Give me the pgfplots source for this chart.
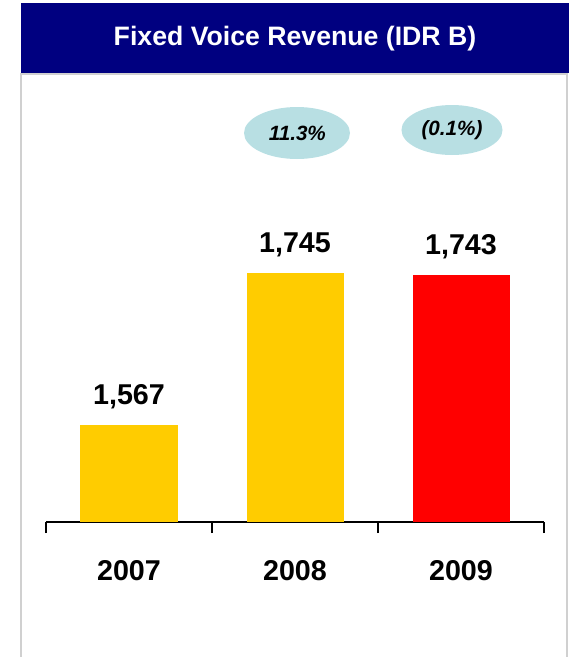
\documentclass[border=0pt]{standalone}
\usepackage{pgfplots}
\pgfplotsset{compat=1.18}
\usepackage{fontspec}
\setmainfont{Liberation Sans}

\definecolor{banner}{RGB}{0,0,128}
\definecolor{barYellow}{RGB}{255,204,0}
\definecolor{barRed}{RGB}{255,0,0}
\definecolor{bubble}{RGB}{184,223,227}
\definecolor{frame}{RGB}{208,208,208}

\begin{document}
\begin{tikzpicture}
\useasboundingbox (0,0) rectangle (426.75pt,-492.75pt);

% panel frame and title banner
\draw[frame, line width=1.3pt] (15.75pt,-492.75pt) -- (15.75pt,-55.5pt) -- (425.25pt,-55.5pt) -- (425.25pt,-492.75pt);
\fill[banner] (15.75pt,-2.25pt) rectangle (426.75pt,-54.75pt);
\node[text=white, font=\fontsize{20}{24}\selectfont\bfseries] at (221.25pt,-29.25pt) {Fixed Voice Revenue (IDR B)};

\begin{axis}[
    at={(34.5pt,-391.5pt)}, anchor=south west,
    scale only axis,
    width=373.5pt, height=336pt,
    xmin=-0.5, xmax=2.5,
    ymin=1453, ymax=1978,
    axis x line*=bottom,
    axis y line=none,
    axis line style={black, line width=1.5pt},
    xtick={0,1,2},
    xticklabels={2007,2008,2009},
    minor xtick={-0.5,0.5,1.5,2.5},
    tick align=outside,
    major tick length=0pt,
    minor tick length=8.25pt,
    every tick/.style={black, line width=1.5pt},
    xticklabel style={anchor=base, yshift=-43.5pt, font=\fontsize{21.5}{25}\selectfont\bfseries},
    ybar, bar width=72.75pt, bar shift=0pt,
    clip=false,
    nodes near coords,
    point meta=explicit symbolic,
    every node near coord/.append style={anchor=base, yshift=15pt, black, font=\fontsize{21.5}{25}\selectfont\bfseries},
]
\addplot[fill=barYellow, draw=none] coordinates {(0,1567) [1,567]};
\addplot[fill=barYellow, draw=none] coordinates {(1,1745) [1,745]};
\addplot[fill=barRed, draw=none] coordinates {(2,1743) [1,743]};
\end{axis}

% growth bubbles
\fill[bubble] (222.75pt,-99.75pt) ellipse (39.75pt and 19.5pt);
\fill[bubble] (339pt,-97.5pt) ellipse (37.9pt and 18.75pt);
\node[font=\fontsize{15.5}{18}\selectfont\bfseries\itshape] at (223pt,-100pt) {11.3\%};
\node[font=\fontsize{15.5}{18}\selectfont\bfseries\itshape] at (339pt,-97.5pt) {(0.1\%)};
\end{tikzpicture}
\end{document}
